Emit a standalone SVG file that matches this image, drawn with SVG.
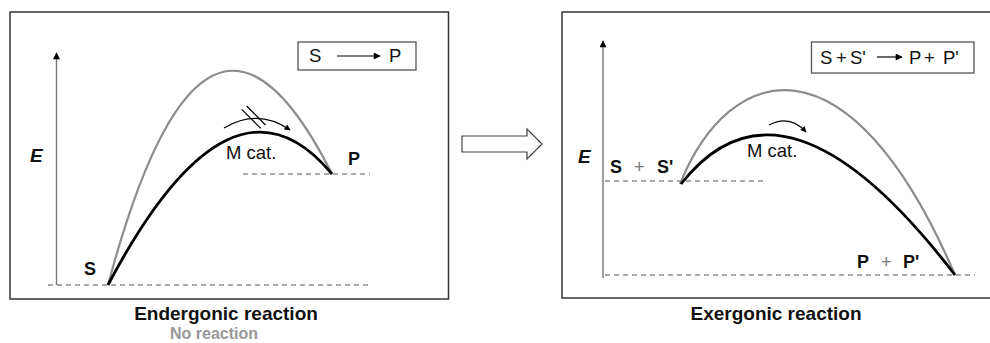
<svg xmlns="http://www.w3.org/2000/svg" width="990" height="343" viewBox="0 0 990 343">
  <defs>
    <marker id="head" viewBox="0 0 10 10" refX="9" refY="5" markerWidth="10" markerHeight="7" markerUnits="userSpaceOnUse" orient="auto">
      <path d="M0,0 L10,5 L0,10 z" fill="#000"/>
    </marker>
    <marker id="headSmall" viewBox="0 0 10 10" refX="9" refY="5" markerWidth="9" markerHeight="6" markerUnits="userSpaceOnUse" orient="auto">
      <path d="M0,0 L10,5 L0,10 z" fill="#000"/>
    </marker>
    <style>
      .panel { fill: #fff; stroke: #333; stroke-width: 1.5; }
      .box { fill: #fff; stroke: #555; stroke-width: 1.3; }
      .axis { stroke: #777; stroke-width: 1.4; fill: none; }
      .level { stroke: #555; stroke-width: 1.2; stroke-dasharray: 5 4; fill: none; }
      .uncat { stroke: #8c8c8c; stroke-width: 2.2; fill: none; }
      .cat { stroke: #000; stroke-width: 2.8; fill: none; }
      .thin { stroke: #000; stroke-width: 1.2; fill: none; }
      text { font-family: "Liberation Sans", Arial, sans-serif; fill: #111; }
      .lbl { font-size: 18px; font-weight: bold; }
      .axlbl { font-size: 19px; font-weight: bold; font-style: italic; }
      .reg { font-size: 18.5px; }
      .plus { font-size: 18px; fill: #777; }
      .title { font-size: 19px; font-weight: bold; text-anchor: middle; }
      .sub { font-size: 16px; font-weight: bold; fill: #999; }
    </style>
  </defs>

  <!-- Endergonic panel -->
  <g id="endergonic">
    <rect class="panel" x="10" y="12" width="438.5" height="287"/>
    <line class="axis" x1="56.5" y1="285" x2="56.5" y2="53" marker-end="url(#head)"/>
    <text class="axlbl" x="30" y="162">E</text>
    <line class="level" x1="48" y1="285" x2="370" y2="285"/>
    <line class="level" x1="243" y1="174" x2="370" y2="174"/>
    <path class="uncat" d="M108,285 Q205,-78 332,174"/>
    <path class="cat" d="M108,285 Q231,52 332,174"/>
    <text class="lbl" x="84" y="275">S</text>
    <text class="lbl" x="348" y="165">P</text>
    <text class="reg" x="226" y="159">M cat.</text>
    <path class="thin" d="M224,128 Q258,108 290,130" marker-end="url(#headSmall)"/>
    <line class="thin" x1="241.7" y1="109.3" x2="260.7" y2="128.3"/>
    <line class="thin" x1="246.7" y1="106" x2="265.5" y2="125"/>
  </g>
  <g id="equation-left">
    <rect class="box" x="298" y="42" width="118" height="28"/>
    <text class="reg" x="309" y="62">S</text>
    <line class="thin" x1="337" y1="56" x2="380" y2="56" marker-end="url(#head)"/>
    <text class="reg" x="389" y="62">P</text>
  </g>
  <text class="title" x="226" y="320">Endergonic reaction</text>
  <text class="sub" x="214" y="339" text-anchor="middle">No reaction</text>

  <!-- Transition arrow -->
  <g id="transition">
    <polygon points="462,136 527,136 527,129 542,144 527,159 527,152 462,152" fill="#fff" stroke="#444" stroke-width="1.2"/>
  </g>

  <!-- Exergonic panel -->
  <g id="exergonic">
    <rect class="panel" x="562" y="12" width="440" height="286"/>
    <line class="axis" x1="603" y1="278" x2="603" y2="41" marker-end="url(#head)"/>
    <text class="axlbl" x="578" y="163">E</text>
    <line class="level" x1="605" y1="181" x2="763" y2="181"/>
    <line class="level" x1="605" y1="275" x2="975" y2="275"/>
    <path class="uncat" d="M680,184 C730,60 850,30 955,275"/>
    <path class="cat" d="M681,184 Q784,52 955,275"/>
    <text class="lbl" x="610" y="173">S</text>
    <text class="plus" x="634" y="173">+</text>
    <text class="lbl" x="657" y="173">S'</text>
    <text class="lbl" x="857" y="268">P</text>
    <text class="plus" x="881" y="268">+</text>
    <text class="lbl" x="903" y="268">P'</text>
    <text class="reg" x="747" y="157">M cat.</text>
    <path class="thin" d="M769,125 Q790,114 806,132" marker-end="url(#headSmall)"/>
  </g>
  <g id="equation-right">
    <rect class="box" x="811.5" y="42" width="162.5" height="31"/>
    <text class="reg" x="820" y="64">S</text>
    <text class="reg" x="836" y="64">+</text>
    <text class="reg" x="850" y="64">S'</text>
    <line class="thin" x1="877" y1="57" x2="902" y2="57" marker-end="url(#head)"/>
    <text class="reg" x="909" y="64">P</text>
    <text class="reg" x="924" y="64">+</text>
    <text class="reg" x="943" y="64">P'</text>
  </g>
  <text class="title" x="776" y="320">Exergonic reaction</text>
</svg>
